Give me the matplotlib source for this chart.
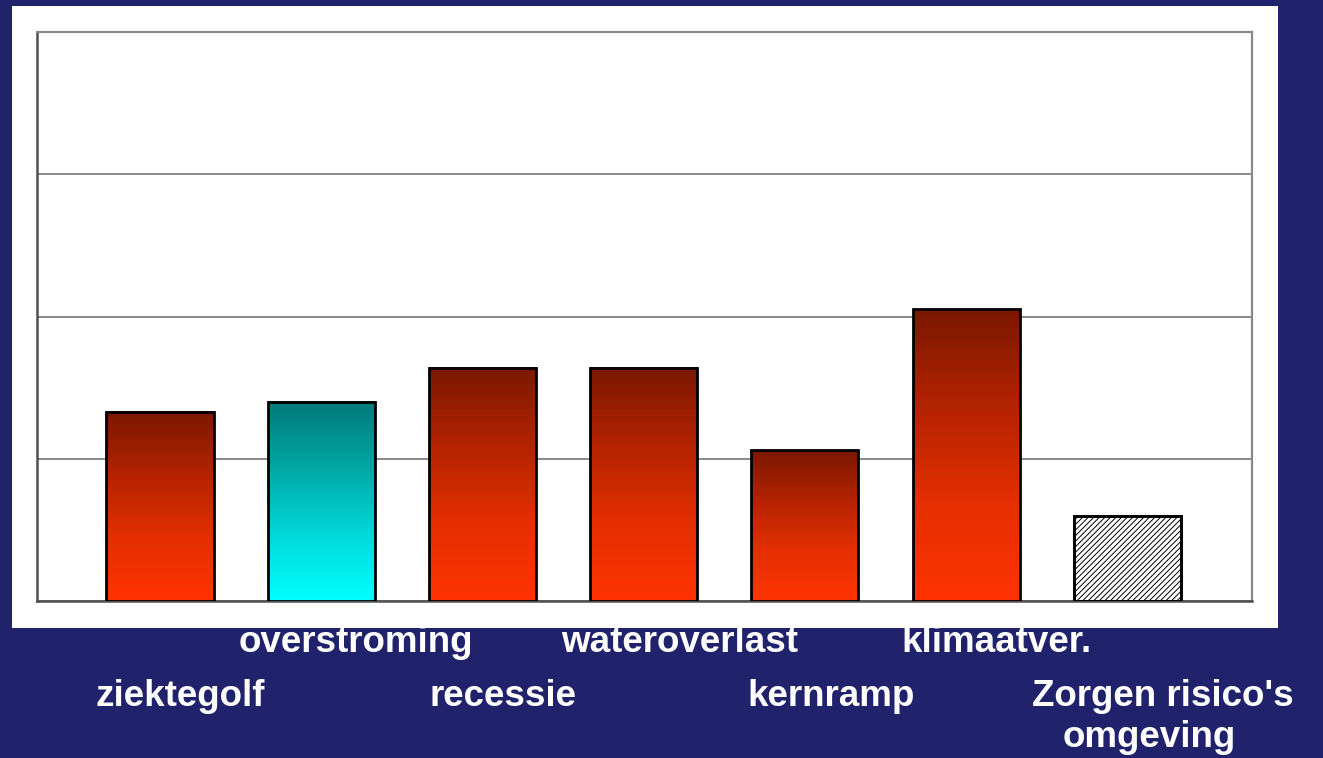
import numpy as np
import matplotlib
matplotlib.use("Agg")
import matplotlib.pyplot as plt
from matplotlib.colors import LinearSegmentedColormap
from matplotlib.patches import Rectangle
import matplotlib.transforms as mtransforms

categories = ["ziektegolf", "overstroming", "recessie", "wateroverlast",
              "kernramp", "klimaatver.", "Zorgen risico's\nomgeving"]
values = [1.33, 1.40, 1.64, 1.64, 1.06, 2.05, 0.60]
styles = ["red", "teal", "red", "red", "red", "red", "hatch"]
yticks = [0, 1, 2, 3, 4]

# layout (pixels)
label_dx = [20, 35, 21, 36, 26, 30, 36]
label_row = [1, 0, 1, 0, 1, 0, 1]

plt.rcParams["hatch.linewidth"] = 0.7
plt.rcParams["hatch.color"] = "#333333"

W, H = 1323, 758
fig = plt.figure(figsize=(W / 100, H / 100), dpi=100)
fig.patch.set_facecolor("#20226c")

# white panel
panel = Rectangle((12 / W, 1 - 628 / H), (1278 - 12) / W, (628 - 6) / H,
                  transform=fig.transFigure, facecolor="white",
                  edgecolor="none", zorder=1)
fig.add_artist(panel)

ax = fig.add_axes([37 / W, 1 - 601 / H, (1252 - 37) / W, (601 - 32) / H])
ax.set_zorder(2)
ax.set_facecolor("white")

red_cmap = LinearSegmentedColormap.from_list("r", ["#ff3300", "#e42f00", "#b42300", "#7a1800"])
teal_cmap = LinearSegmentedColormap.from_list("t", ["#00ffff", "#00d8d8", "#00a8a6", "#007a78"])

x = np.arange(len(categories))
bw = 0.664
grad = np.linspace(0, 1, 256).reshape(-1, 1)
bars = ax.bar(x, values, width=bw, facecolor="none", edgecolor="black",
              linewidth=2.0, zorder=4)
for b, s in zip(bars, styles):
    x0, w, h = b.get_x(), b.get_width(), b.get_height()
    if s == "hatch":
        b.set_facecolor("white")
        b.set_hatch("//////")
        b.set_zorder(3)
        ax.bar(b.get_x() + w / 2, h, width=w, facecolor="none",
               edgecolor="black", linewidth=2.0, zorder=5)
    else:
        cmap = red_cmap if s == "red" else teal_cmap
        ax.imshow(grad, extent=(x0, x0 + w, 0, h), origin="lower",
                  aspect="auto", cmap=cmap, zorder=3, interpolation="bilinear")

ax.set_xlim(-0.763, 6.774)
ax.set_ylim(yticks[0], yticks[-1])
ax.set_yticks(yticks)
ax.yaxis.grid(True, color="#808080", linewidth=1.3)
ax.set_axisbelow(True)
ax.tick_params(left=False, bottom=False, labelleft=False, labelbottom=False)
for side in ["top", "right"]:
    ax.spines[side].set_color("#8a8a8a")
    ax.spines[side].set_linewidth(1.6)
for side in ["left", "bottom"]:
    ax.spines[side].set_color("#505050")
    ax.spines[side].set_linewidth(1.8)

row_base = [652, 706]
line_gap = 41
for i, (lab, dx, r) in enumerate(zip(categories, label_dx, label_row)):
    for k, line in enumerate(lab.split("\n")):
        ldx = dx if k == 0 else dx - 14
        tr = mtransforms.blended_transform_factory(ax.transData, fig.transFigure) + \
            mtransforms.ScaledTranslation(ldx / 100, 0, fig.dpi_scale_trans)
        fig.text(x[i], 1 - (row_base[r] + k * line_gap) / H, line, transform=tr,
                 ha="center", va="baseline", color="white", fontsize=26.5,
                 fontweight="bold", family=["Liberation Sans", "DejaVu Sans"],
                 zorder=0.5)

fig.savefig("out.png", dpi=100, facecolor=fig.get_facecolor())
